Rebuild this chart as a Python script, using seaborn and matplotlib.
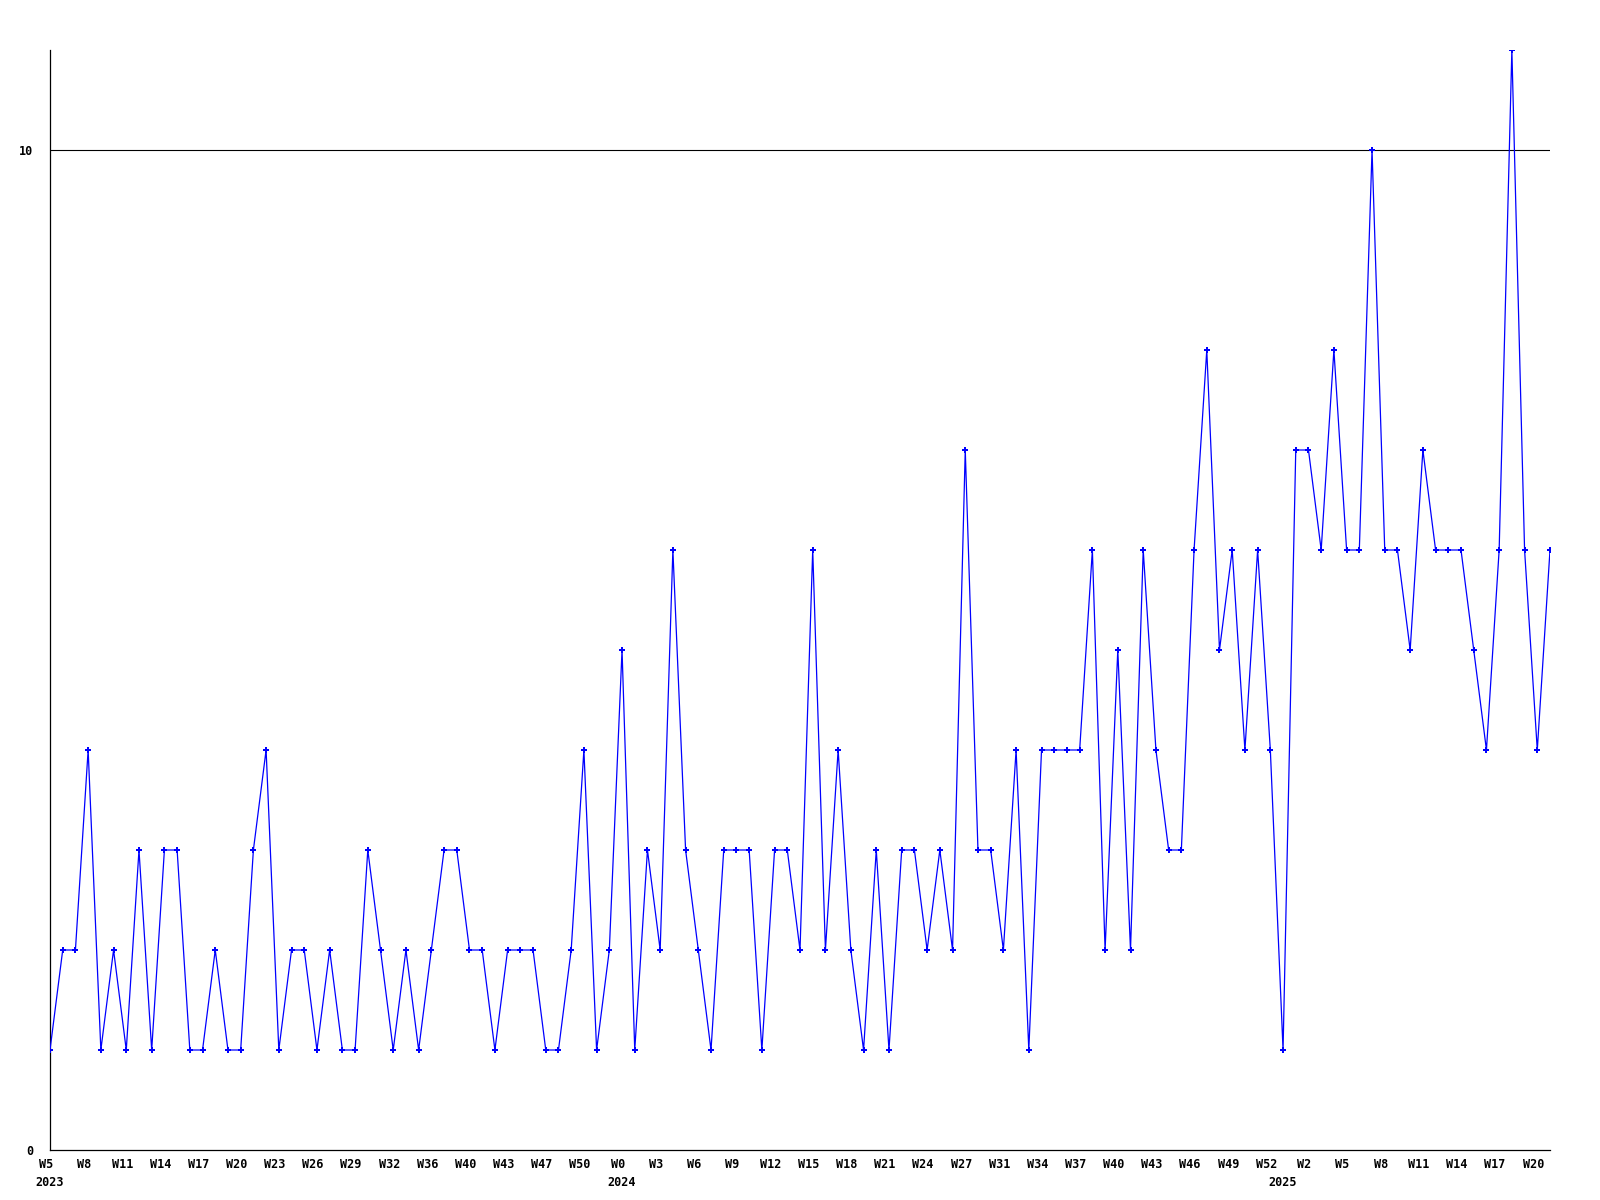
import pandas as pd
import seaborn as sns
import matplotlib
matplotlib.use('Agg')
import matplotlib.pyplot as plt
from matplotlib.transforms import ScaledTranslation

# valores semanales (W5 2023 .. W21 2025)
valores = [1, 2, 2, 4, 1, 2, 1, 3, 1, 3,
           3, 1, 1, 2, 1, 1, 3, 4, 1, 2,
           2, 1, 2, 1, 1, 3, 2, 1, 2, 1,
           2, 3, 3, 2, 2, 1, 2, 2, 2, 1,
           1, 2, 4, 1, 2, 5, 1, 3, 2, 6,
           3, 2, 1, 3, 3, 3, 1, 3, 3, 2,
           6, 2, 4, 2, 1, 3, 1, 3, 3, 2,
           3, 2, 7, 3, 3, 2, 4, 1, 4, 4,
           4, 4, 6, 2, 5, 2, 6, 4, 3, 3,
           6, 8, 5, 6, 4, 6, 4, 1, 7, 7,
           6, 8, 6, 6, 10, 6, 6, 5, 7, 6,
           6, 6, 5, 4, 6, 11, 6, 4, 6]

semanas = ["W5", "W8", "W11", "W14", "W17", "W20", "W23", "W26", "W29", "W32",
           "W36", "W40", "W43", "W47", "W50", "W0", "W3", "W6", "W9", "W12",
           "W15", "W18", "W21", "W24", "W27", "W31", "W34", "W37", "W40", "W43",
           "W46", "W49", "W52", "W2", "W5", "W8", "W11", "W14", "W17", "W20"]

anios = ["2023", "2024", "2025"]
anios_pos = [0, 45, 97]

df = pd.DataFrame({'idx': range(len(valores)), 'valor': valores})

plt.rcParams['font.family'] = ['DejaVu Sans Mono', 'DejaVu Sans']

fig = plt.figure(figsize=(16, 12), dpi=100)
ax = fig.add_axes([50 / 1600, 50 / 1200, 1500 / 1600, 1100 / 1200])

ax.axhline(10, color='black', lw=0.8, zorder=1)
sns.lineplot(data=df, x='idx', y='valor', ax=ax, color='#0000ff', lw=0.9,
             marker='P', markersize=4, markeredgewidth=0, zorder=3)

ax.set_xlim(0, len(valores) - 1)
ax.set_ylim(0, 11)
ax.set_xlabel('')
ax.set_ylabel('')

ax.set_xticks(range(0, 3 * len(semanas), 3))
ax.set_xticklabels(semanas, fontsize=8.5, fontweight='bold')
ax.set_yticks([0, 10])
ax.set_yticklabels(['0', '10'], fontsize=8.5, fontweight='bold')
ax.tick_params(axis='x', length=0, pad=6)
ax.tick_params(axis='y', length=0, pad=12)

# las etiquetas de semana van un poco a la izquierda del punto
desplaza = ScaledTranslation(-4 / 100, 0, fig.dpi_scale_trans)
for lbl in ax.get_xticklabels():
    lbl.set_transform(lbl.get_transform() + desplaza)

for a, p in zip(anios, anios_pos):
    ax.annotate(a, xy=(p, 0), xycoords=('data', 'axes fraction'),
                xytext=(0, -19), textcoords='offset points',
                ha='center', va='top', fontsize=8.5, fontweight='bold')

for s in ['top', 'right']:
    ax.spines[s].set_visible(False)
for s in ['left', 'bottom']:
    ax.spines[s].set_color('black')
    ax.spines[s].set_linewidth(0.9)

fig.savefig('out.png', dpi=100)
